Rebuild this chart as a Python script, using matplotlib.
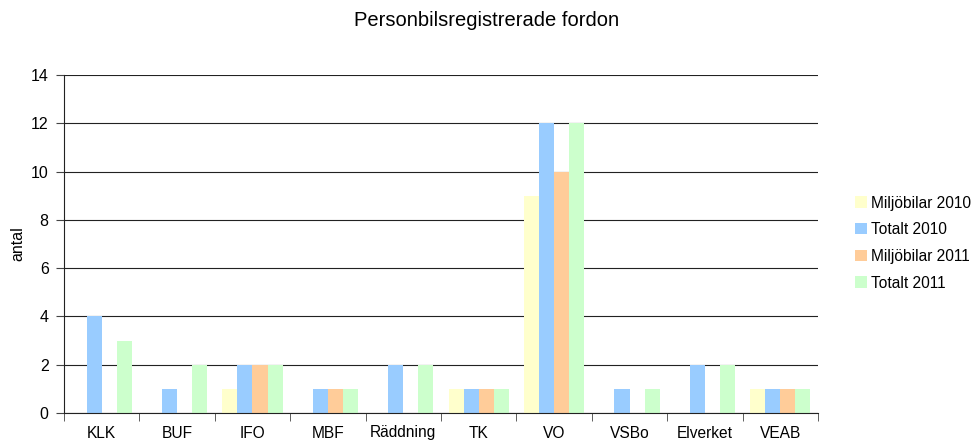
import numpy as np
import matplotlib
matplotlib.use("Agg")
import matplotlib.pyplot as plt

plt.rcParams["font.family"] = ["Liberation Sans", "DejaVu Sans"]

categories = ["KLK", "BUF", "IFO", "MBF", "Räddning", "TK", "VO", "VSBo", "Elverket", "VEAB"]
miljo_2010 = [0, 0, 1, 0, 0, 1, 9, 0, 0, 1]
totalt_2010 = [4, 1, 2, 1, 2, 1, 12, 1, 2, 1]
miljo_2011 = [0, 0, 2, 1, 0, 1, 10, 0, 0, 1]
totalt_2011 = [3, 2, 2, 1, 2, 1, 12, 1, 2, 1]

series = [
    ("Miljöbilar 2010", miljo_2010, "#FFFFCC"),
    ("Totalt 2010", totalt_2010, "#99CCFF"),
    ("Miljöbilar 2011", miljo_2011, "#FFCC99"),
    ("Totalt 2011", totalt_2011, "#CCFFCC"),
]

fig = plt.figure(figsize=(9.78, 4.43), dpi=100)
ax = fig.add_axes([64 / 978, 1 - 413 / 443, (818 - 64) / 978, (413 - 75) / 443])

x = np.arange(len(categories))
w = 0.2
for i, (label, vals, color) in enumerate(series):
    ax.bar(x + (i - 1.5) * w, vals, w, color=color, label=label, zorder=2)

ax.set_xlim(-0.5, len(categories) - 0.5)
ax.set_ylim(0, 14)
ax.set_yticks(range(0, 15, 2))
ax.yaxis.grid(True, color="#222222", linewidth=0.8, zorder=0)
ax.set_axisbelow(True)

# category labels sit between boundary ticks; kept just inside the bottom edge
ax.set_xticks(x)
ax.set_xticklabels(categories, fontsize=11.2)
ax.set_xticks(np.arange(-0.5, len(categories)), minor=True)
ax.tick_params(axis="x", which="major", length=0, pad=9)
ax.tick_params(axis="x", which="minor", length=6, color="#444444")
ax.tick_params(axis="y", labelsize=11.5, length=6, pad=5, color="#444444")

for s in ["top", "right"]:
    ax.spines[s].set_visible(False)
ax.spines["left"].set_color("#222222")
ax.spines["bottom"].set_color("#222222")

ax.set_ylabel("antal", fontsize=11.5, labelpad=4)
fig.text(0.5 - 2 / 978, 1 - 20 / 443, "Personbilsregistrerade fordon", ha="center", va="center", fontsize=14.5)

ax.legend(loc="center left", bbox_to_anchor=(855 / 978, 1 - 243 / 443), bbox_transform=fig.transFigure,
          frameon=False, fontsize=11.2, handlelength=0.75, handleheight=0.75, handletextpad=0.3,
          labelspacing=0.75, borderaxespad=0, borderpad=0)

fig.savefig("out.png", dpi=100)
